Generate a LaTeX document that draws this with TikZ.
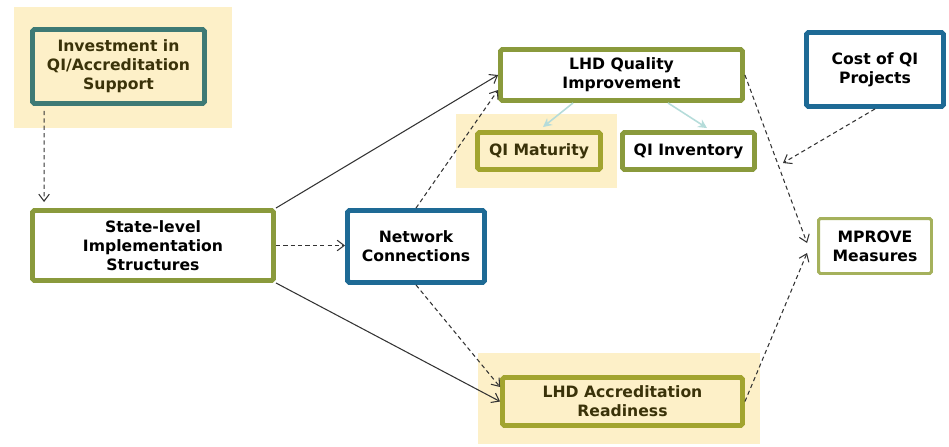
\documentclass[tikz,border=0pt]{standalone}
\usepackage{fontspec}
\setmainfont{DejaVu Sans}
\usetikzlibrary{arrows.meta}

\definecolor{bgyellow}{HTML}{FDF0C8}
\definecolor{tealline}{HTML}{3E7A75}
\definecolor{oliveline}{HTML}{8A9A3C}
\definecolor{goldline}{HTML}{A2A42F}
\definecolor{blueline}{HTML}{1E6A95}
\definecolor{paleolive}{HTML}{A5B15C}
\definecolor{darktext}{HTML}{3A3209}
\definecolor{lightarrow}{HTML}{B5DCDA}
\definecolor{arrowgray}{HTML}{333333}

\tikzset{
    box/.style={draw, line width=2.8pt, rounded corners=1pt, align=center, inner sep=0pt,
        font=\bfseries\fontsize{8.9}{10.8}\selectfont},
    shade box/.style={box, fill=bgyellow, text=darktext},
    solidarrow/.style={draw=arrowgray, line width=0.6pt, -{Straight Barb[length=4pt, width=6pt]}},
    dasharrow/.style={solidarrow, dash pattern=on 2.4pt off 1.8pt},
    lightline/.style={draw=lightarrow, line width=0.9pt, -{Stealth[length=5pt, width=5pt]}}
}

\begin{document}
\begin{tikzpicture}[x=0.02cm, y=-0.02cm]
    \useasboundingbox (0, 0) rectangle (949, 446);

            %%draw the highlight areas
            \fill[bgyellow] (14, 7) rectangle (232, 128);
            \fill[bgyellow] (456, 114) rectangle (617, 188);
            \fill[bgyellow] (478, 353) rectangle (760, 444);

            %%draw the boxes
            \node[shade box, draw=tealline, minimum width=3.44cm, minimum height=1.48cm] (invest) at (118.5, 66.5)
                {Investment in\\QI/Accreditation\\Support};
            \node[box, draw=oliveline, fill=white, minimum width=4.82cm, minimum height=1.4cm] (state) at (153, 245.5)
                {State-level\\Implementation\\Structures};
            \node[box, draw=blueline, fill=white, minimum width=2.74cm, minimum height=1.44cm] (network) at (416, 246.5)
                {Network\\Connections};
            \node[box, draw=oliveline, fill=white, minimum width=4.84cm, minimum height=1.02cm] (lhdqi) at (621.5, 75)
                {LHD Quality\\Improvement};
            \node[shade box, draw=goldline, minimum width=2.46cm, minimum height=0.74cm] (qimat) at (539, 151)
                {QI Maturity};
            \node[box, draw=oliveline, fill=white, minimum width=2.64cm, minimum height=0.74cm] (qiinv) at (688.5, 151)
                {QI Inventory};
            \node[box, draw=blueline, fill=white, minimum width=2.74cm, minimum height=1.48cm] (cost) at (875, 69.5)
                {Cost of QI\\Projects};
            \node[box, draw=paleolive, line width=1.7pt, fill=white, minimum width=2.26cm, minimum height=1.1cm] (mprove) at (875, 246)
                {MPROVE\\Measures};
            \node[shade box, draw=goldline, minimum width=4.8cm, minimum height=0.96cm] (lhdacc) at (622.5, 401.5)
                {LHD Accreditation\\Readiness};

            %%draw the connections
            \draw[dasharrow] ([xshift=0.28cm, yshift=-0.1cm]invest.south west) -- ([xshift=0.28cm, yshift=0.12cm]state.north west);
            \draw[dasharrow] (state.east) -- (state.east -| network.west);
            \draw[solidarrow] (state.north east) -- (lhdqi.west);
            \draw[solidarrow] (state.south east) -- (lhdacc.west);
            \draw[dasharrow] (network.north) -- ([yshift=-0.3cm]lhdqi.west);
            \draw[dasharrow] (network.south) -- ([yshift=0.29cm]lhdacc.west);

            \draw[lightline] ([xshift=-0.97cm]lhdqi.south) -- ([xshift=0.08cm, yshift=0.06cm]qimat.north);
            \draw[lightline] ([xshift=0.93cm]lhdqi.south) -- ([xshift=0.37cm, yshift=0.04cm]qiinv.north);

            \draw[dasharrow] (lhdqi.east) -- ([xshift=-0.2cm, yshift=0.06cm]mprove.west);
            \draw[dasharrow] (lhdacc.east) -- ([xshift=-0.2cm, yshift=-0.14cm]mprove.west);
            \coordinate (costtip) at (783, 163);
            \draw[dasharrow] (cost.south) -- (costtip);
        \end{tikzpicture}
\end{document}
